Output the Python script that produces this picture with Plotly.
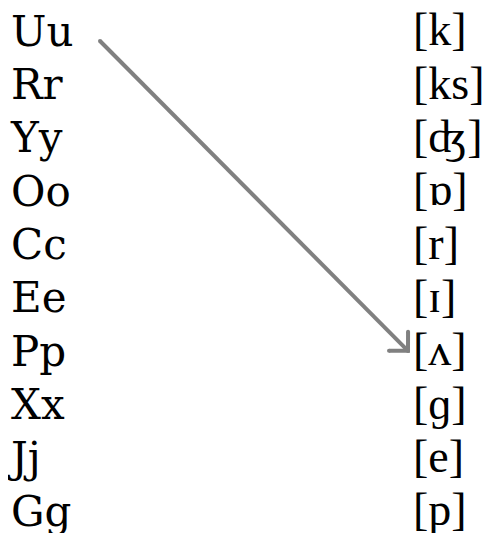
import math
import plotly.graph_objects as go

letters = ["Uu", "Rr", "Yy", "Oo", "Cc", "Ee", "Pp", "Xx", "Jj", "Gg"]
sounds = ["[k]", "[ks]", "[ʤ]", "[ɒ]", "[r]", "[ɪ]", "[ʌ]", "[ɡ]", "[e]", "[p]"]
arrow_from = 0   # index into letters
arrow_to = 6     # index into sounds

W, H = 494, 533
base0, step = 42, 53.3          # baseline of first row, row spacing (px)
left_size, right_size = 42, 46
left_x, right_x = 3, 405

baselines = [base0 + i * step for i in range(len(letters))]
MID = 0.35  # plotly middle-text shift (em)

fig = go.Figure()
fig.add_trace(go.Scatter(
    x=[left_x] * len(letters), y=[b - MID * left_size for b in baselines],
    mode="text", text=letters, textposition="middle right",
    textfont=dict(family="DejaVu Serif", size=left_size, color="black"),
    hoverinfo="skip", showlegend=False))
fig.add_trace(go.Scatter(
    x=[right_x] * len(sounds), y=[b - MID * right_size for b in baselines],
    mode="text", text=sounds, textposition="middle right",
    textfont=dict(family="Liberation Serif", size=right_size, color="black"),
    hoverinfo="skip", showlegend=False))

# arrow from the end of "Uu" to the front of "[ʌ]"
x0, y0 = 92, baselines[arrow_from] - 9
x1, y1 = 400, baselines[arrow_to] - 19
ang = math.atan2(y1 - y0, x1 - x0)
L = 19
arms = []
for s in (1, -1):
    a = ang + math.pi + s * math.pi / 4
    arms.append((x1 + L * math.cos(a), y1 + L * math.sin(a)))
fig.add_trace(go.Scatter(
    x=[x0, x1, None, arms[0][0], x1, arms[1][0]],
    y=[y0, y1, None, arms[0][1], y1, arms[1][1]],
    mode="lines+markers", line=dict(color="#808080", width=4),
    marker=dict(color="#808080", size=4),
    hoverinfo="skip", showlegend=False))

fig.update_layout(
    width=W, height=H, margin=dict(l=0, r=0, t=0, b=0),
    paper_bgcolor="white", plot_bgcolor="white",
    xaxis=dict(range=[0, W], visible=False, fixedrange=True),
    yaxis=dict(range=[H, 0], visible=False, fixedrange=True),
)
fig.write_html("out.html")
